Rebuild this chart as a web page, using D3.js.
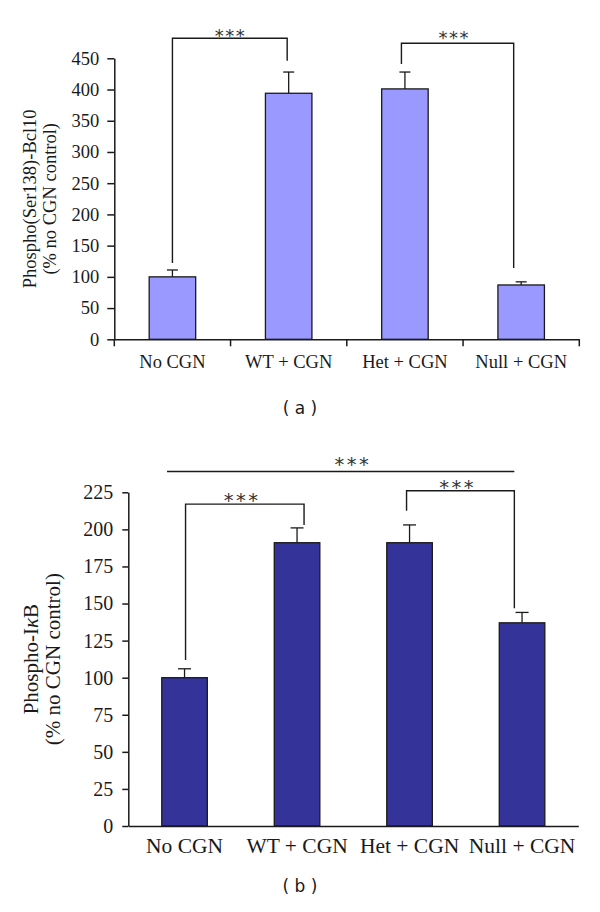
<!DOCTYPE html>
<html>
<head>
<meta charset="utf-8">
<script src="https://cdn.jsdelivr.net/npm/d3@7"></script>
<style>
  html, body { margin: 0; padding: 0; background: #fff; }
  svg { display: block; }
</style>
</head>
<body>
<svg id="chart" width="600" height="912"></svg>
<script>
// ---------- data ----------
const categories = ["No CGN", "WT + CGN", "Het + CGN", "Null + CGN"];

const bcl10Values = [100, 394, 401, 87];
const bcl10ErrUp  = [11, 34, 27, 5];
const bcl10Ticks  = [0, 50, 100, 150, 200, 250, 300, 350, 400, 450];

const ikbValues = [100, 191, 191, 137];
const ikbErrUp  = [6, 10, 12, 7];
const ikbTicks  = [0, 25, 50, 75, 100, 125, 150, 175, 200, 225];

// brackets: [fromCategory, toCategory, topValue, leftLegBottom, rightLegBottom]
const bcl10Brackets = [
  ["No CGN", "WT + CGN", 482, 122, 446],
  ["Het + CGN", "Null + CGN", 474, 441, 114]
];
const ikbBrackets = [
  ["No CGN", "WT + CGN", 217, 112, 203],
  ["Het + CGN", "Null + CGN", 226, 212.6, 146.8]
];
const ikbOverallLine = ["No CGN", "Null + CGN", 239];
const starLabel = "***";

const svg = d3.select("#chart");
const serif = "'Liberation Serif', 'Times New Roman', serif";
const sans = "'DejaVu Sans', Verdana, sans-serif";
const ink = "#1a1a1a";

function stars(g, xc, yc, size, spacing) {
  g.append("text").attr("x", xc + spacing / 2).attr("y", yc + 0.59 * size)
    .attr("text-anchor", "middle").attr("font-family", sans).attr("font-size", size)
    .attr("letter-spacing", spacing)
    .attr("fill", "#333").text(starLabel);
}

function panel(opts) {
  const g = svg.append("g");
  const x = d3.scaleBand().domain(categories).range([opts.x0, opts.x1]).paddingInner(0).paddingOuter(0);
  const y = d3.scaleLinear().domain([0, opts.ymax]).range([opts.yBottom, opts.yTop]);
  const bw = x.bandwidth() * opts.barFrac;
  const cx = c => x(c) + x.bandwidth() / 2;

  // bars
  g.selectAll("rect.bar").data(categories).enter().append("rect")
    .attr("x", c => cx(c) - bw / 2)
    .attr("y", (c, i) => y(opts.values[i]))
    .attr("width", bw)
    .attr("height", (c, i) => y(0) - y(opts.values[i]))
    .attr("fill", opts.fill)
    .attr("stroke", ink)
    .attr("stroke-width", 1.3);

  // error bars
  categories.forEach((c, i) => {
    const top = y(opts.values[i] + opts.err[i]);
    g.append("line").attr("x1", cx(c)).attr("x2", cx(c))
      .attr("y1", y(opts.values[i])).attr("y2", top)
      .attr("stroke", ink).attr("stroke-width", 1.3);
    g.append("line").attr("x1", cx(c) - opts.cap).attr("x2", cx(c) + opts.cap)
      .attr("y1", top).attr("y2", top)
      .attr("stroke", ink).attr("stroke-width", 1.3);
  });

  // y axis
  const yAxis = d3.axisLeft(y).tickValues(opts.ticks).tickSize(opts.tickLen)
    .tickPadding(opts.tickPad).tickSizeOuter(0);
  const ya = g.append("g").attr("transform", `translate(${opts.x0},0)`).call(yAxis);
  ya.attr("font-family", serif).attr("font-size", opts.tickFont);
  ya.select(".domain").attr("stroke", ink).attr("stroke-width", 1.5);
  ya.selectAll(".tick line").attr("stroke", ink).attr("stroke-width", 1.5);
  ya.selectAll(".tick text").attr("font-family", serif).attr("font-size", opts.tickFont)
    .attr("fill", ink);

  // x axis
  const xAxis = d3.axisBottom(x).tickSize(0).tickSizeOuter(0).tickPadding(opts.catPad);
  const xa = g.append("g").attr("transform", `translate(0,${opts.yBottom})`).call(xAxis);
  xa.attr("font-family", serif).attr("font-size", opts.catFont);
  xa.select(".domain").attr("stroke", ink).attr("stroke-width", 1.5);
  xa.selectAll(".tick text").attr("font-family", serif).attr("font-size", opts.catFont).attr("fill", ink);
  if (opts.xTicks) {
    const bounds = categories.map(c => x(c)).concat([x(categories[categories.length - 1]) + x.bandwidth()]);
    xa.selectAll("line.bnd").data(bounds).enter().append("line")
      .attr("x1", d => d).attr("x2", d => d).attr("y1", 0).attr("y2", 7)
      .attr("stroke", ink).attr("stroke-width", 1.5);
  }

  // y labels
  const yc = (opts.yTop + opts.yBottom) / 2;
  const yl = g.append("text")
    .attr("transform", `translate(${opts.lab1x},${yc}) rotate(-90)`)
    .attr("text-anchor", "middle").attr("font-family", serif).attr("font-size", opts.labFont)
    .attr("fill", ink);
  opts.label1Parts.forEach(p => {
    const t = yl.append("tspan").text(p.t);
    if (p.italic) t.attr("font-style", "italic");
  });
  g.append("text")
    .attr("transform", `translate(${opts.lab2x},${yc}) rotate(-90)`)
    .attr("text-anchor", "middle").attr("font-family", serif).attr("font-size", opts.labFont)
    .attr("fill", ink).text("(% no CGN control)");

  // brackets
  opts.brackets.forEach((b, k) => {
    const xl = cx(b[0]) + opts.legOff[k][0];
    const xr = cx(b[1]) + opts.legOff[k][1];
    const yt = y(b[2]);
    g.append("path")
      .attr("d", `M${xl},${y(b[3])}V${yt}H${xr}V${y(b[4])}`)
      .attr("fill", "none").attr("stroke", ink).attr("stroke-width", 1.4);
    stars(g, (xl + xr) / 2 + opts.starOff[k][0], yt + opts.starOff[k][1], opts.starSize, opts.starSpacing);
  });

  if (opts.overall) {
    const o = opts.overall;
    const xl = cx(o[0]) - 17.5, xr = cx(o[1]) - 7.7;
    const yt = y(o[2]);
    g.append("line").attr("x1", xl).attr("x2", xr).attr("y1", yt).attr("y2", yt)
      .attr("stroke", ink).attr("stroke-width", 1.4);
    stars(g, (xl + xr) / 2 + 11, yt - 11.7, opts.starSize, opts.starSpacing);
  }

  // panel label
  g.append("text").attr("x", 300).attr("y", opts.panelY)
    .attr("text-anchor", "middle").attr("font-family", sans).attr("font-size", 17)
    .attr("fill", ink).text(opts.panel);
}

panel({
  x0: 114.3, x1: 579.3, yTop: 58.3, yBottom: 339.3, ymax: 450,
  values: bcl10Values, err: bcl10ErrUp, ticks: bcl10Ticks,
  fill: "#9999ff", barFrac: 0.4, cap: 5.5,
  tickLen: 7, tickPad: 8, tickFont: 18.5, catFont: 18.5, labFont: 18.5, catPad: 16, xTicks: true,
  label1Parts: [{t: "Phospho(Ser138)-Bcl10"}], lab1x: 36, lab2x: 56,
  brackets: bcl10Brackets, legOff: [[0, -1.5], [-3.5, -7.5]],
  starOff: [[0, -6.6], [-4, -10]], starSize: 18, starSpacing: 1.5,
  panel: "( a )", panelY: 414
});

panel({
  x0: 128.3, x1: 578.3, yTop: 492.3, yBottom: 826, ymax: 225,
  values: ikbValues, err: ikbErrUp, ticks: ikbTicks,
  fill: "#333399", barFrac: 0.405, cap: 6.5,
  tickLen: 6, tickPad: 9, tickFont: 20, catFont: 21.5, labFont: 21, catPad: 12, xTicks: false,
  label1Parts: [{t: "Phospho-I"}, {t: "κ", italic: true}, {t: "B"}], lab1x: 38, lab2x: 60,
  brackets: ikbBrackets, legOff: [[1, 7], [-3, -7.7]],
  starOff: [[-4, -9], [-4, -8]], starSize: 19.5, starSpacing: 2.5,
  overall: ikbOverallLine,
  panel: "( b )", panelY: 892
});
</script>
</body>
</html>
